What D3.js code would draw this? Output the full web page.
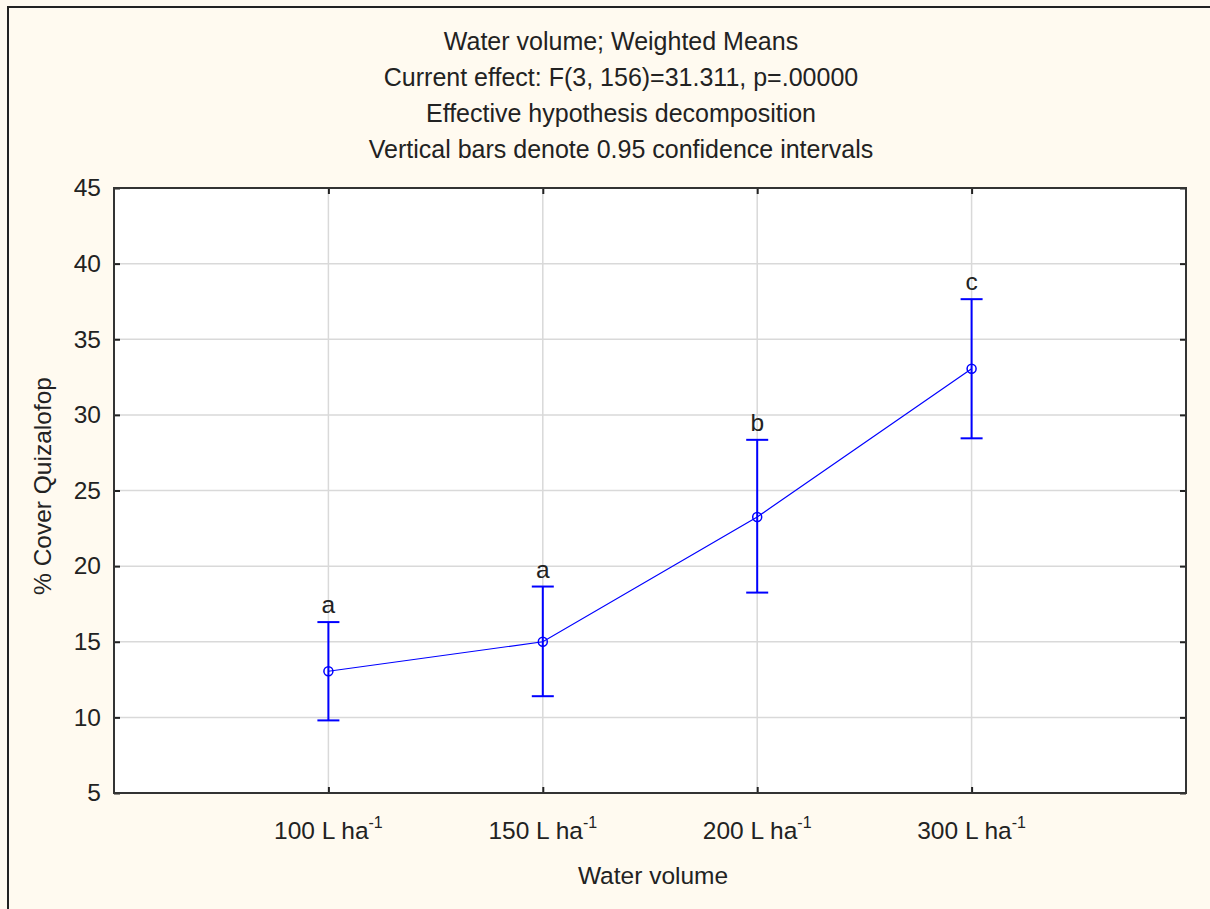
<!DOCTYPE html>
<html>
<head>
<meta charset="utf-8">
<script src="https://cdn.jsdelivr.net/npm/d3@7"></script>
<style>
  body { margin: 0; background: #fffaf0; }
  svg { display: block; font-family: "Liberation Sans", Arial, sans-serif; }
</style>
</head>
<body>
<div id="chart"></div>
<script>
// Weighted means with 0.95 CI
const categories = ["100", "150", "200", "300"];
const means = [13.05, 15.0, 23.25, 33.05];
const lower = [9.8, 11.4, 18.25, 28.45];
const upper = [16.3, 18.65, 28.35, 37.65];
const letters = ["a", "a", "b", "c"];
const yTicks = [5, 10, 15, 20, 25, 30, 35, 40, 45];
const titleLines = [
  "Water volume; Weighted Means",
  "Current effect: F(3, 156)=31.311, p=.00000",
  "Effective hypothesis decomposition",
  "Vertical bars denote 0.95 confidence intervals"
];

let W = 1210, H = 909;
let fontSize = 24.5;
let margin = { top: 188, right: 24, bottom: 116, left: 114 },
    width = W - margin.left - margin.right,
    height = H - margin.top - margin.bottom;

let svg = d3.select("#chart").append("svg")
  .attr("width", W).attr("height", H);

// outer frame (only left and top edges are visible in the crop)
svg.append("rect").attr("x", 0).attr("y", 0).attr("width", W).attr("height", H)
  .attr("fill", "#fffaf0");
svg.append("path").attr("d", "M8,909V7H1210")
  .attr("fill", "none").attr("stroke", "#222").attr("stroke-width", 2);

let g = svg.append("g").attr("transform", "translate(" + margin.left + "," + margin.top + ")");

let x = d3.scalePoint().domain(categories).range([0, width]).padding(1);
let y = d3.scaleLinear().domain([5, 45]).range([height, 0]);

g.append("rect").attr("width", width).attr("height", height).attr("fill", "#fff");

// grid
g.append("g").selectAll("line").data(yTicks.slice(1, -1)).join("line")
  .attr("x1", 0).attr("x2", width)
  .attr("y1", d => y(d)).attr("y2", d => y(d))
  .attr("stroke", "#d9d9d9").attr("stroke-width", 1.5);
g.append("g").selectAll("line").data(categories).join("line")
  .attr("x1", d => x(d)).attr("x2", d => x(d))
  .attr("y1", 0).attr("y2", height)
  .attr("stroke", "#d9d9d9").attr("stroke-width", 1.5);

// axes with inward ticks
let yLeft = g.append("g").call(d3.axisLeft(y).tickValues(yTicks).tickSize(-6).tickPadding(13));
let yRight = g.append("g").attr("transform", "translate(" + width + ",0)")
  .call(d3.axisRight(y).tickValues(yTicks).tickSize(-6).tickFormat(""));
let xBottom = g.append("g").attr("transform", "translate(0," + height + ")")
  .call(d3.axisBottom(x).tickSize(-6).tickFormat(""));
let xTop = g.append("g").call(d3.axisTop(x).tickSize(-6).tickFormat(""));

[yLeft, yRight, xBottom, xTop].forEach(a => {
  a.select(".domain").remove();
  a.selectAll(".tick line").attr("stroke", "#222").attr("stroke-width", 2);
});
yLeft.selectAll(".tick text").attr("font-size", fontSize).attr("fill", "#222")
  .attr("font-family", "Liberation Sans, Arial, sans-serif");

// x tick labels with superscript
let xl = g.append("g").selectAll("text").data(categories).join("text")
  .attr("x", d => x(d)).attr("y", height + 46)
  .attr("text-anchor", "middle").attr("font-size", fontSize).attr("fill", "#222");
xl.append("tspan").text(d => d + " L ha");
xl.append("tspan").attr("font-size", 16).attr("dy", -11).text("-1");

// plot border
g.append("rect").attr("width", width).attr("height", height)
  .attr("fill", "none").attr("stroke", "#333").attr("stroke-width", 2);

// line of means
let line = d3.line().x((d, i) => x(categories[i])).y(d => y(d));
g.append("path").datum(means).attr("d", line)
  .attr("fill", "none").attr("stroke", "#0000ff").attr("stroke-width", 1.2);

// error bars
let bars = g.append("g").selectAll("g").data(categories).join("g");
bars.append("line")
  .attr("x1", d => x(d)).attr("x2", d => x(d))
  .attr("y1", (d, i) => y(lower[i])).attr("y2", (d, i) => y(upper[i]))
  .attr("stroke", "#0000ff").attr("stroke-width", 2);
bars.append("line")
  .attr("x1", d => x(d) - 11).attr("x2", d => x(d) + 11)
  .attr("y1", (d, i) => y(upper[i])).attr("y2", (d, i) => y(upper[i]))
  .attr("stroke", "#0000ff").attr("stroke-width", 2);
bars.append("line")
  .attr("x1", d => x(d) - 11).attr("x2", d => x(d) + 11)
  .attr("y1", (d, i) => y(lower[i])).attr("y2", (d, i) => y(lower[i]))
  .attr("stroke", "#0000ff").attr("stroke-width", 2);
bars.append("circle")
  .attr("cx", d => x(d)).attr("cy", (d, i) => y(means[i])).attr("r", 4.5)
  .attr("fill", "none").attr("stroke", "#0000ff").attr("stroke-width", 1.5);
bars.append("text")
  .attr("x", d => x(d)).attr("y", (d, i) => y(upper[i]) - 9)
  .attr("text-anchor", "middle").attr("font-size", fontSize).attr("fill", "#222")
  .text((d, i) => letters[i]);

// titles
svg.append("g").selectAll("text").data(titleLines).join("text")
  .attr("x", 621).attr("y", (d, i) => 50 + i * 36)
  .attr("text-anchor", "middle").attr("font-size", 25).attr("fill", "#222")
  .text(d => d);

svg.append("text").attr("x", 653).attr("y", 884)
  .attr("text-anchor", "middle").attr("font-size", fontSize).attr("fill", "#222")
  .text("Water volume");

svg.append("text").attr("transform", "translate(51," + 486 + ") rotate(-90)")
  .attr("text-anchor", "middle").attr("font-size", fontSize).attr("fill", "#222")
  .text("% Cover Quizalofop");
</script>
</body>
</html>
